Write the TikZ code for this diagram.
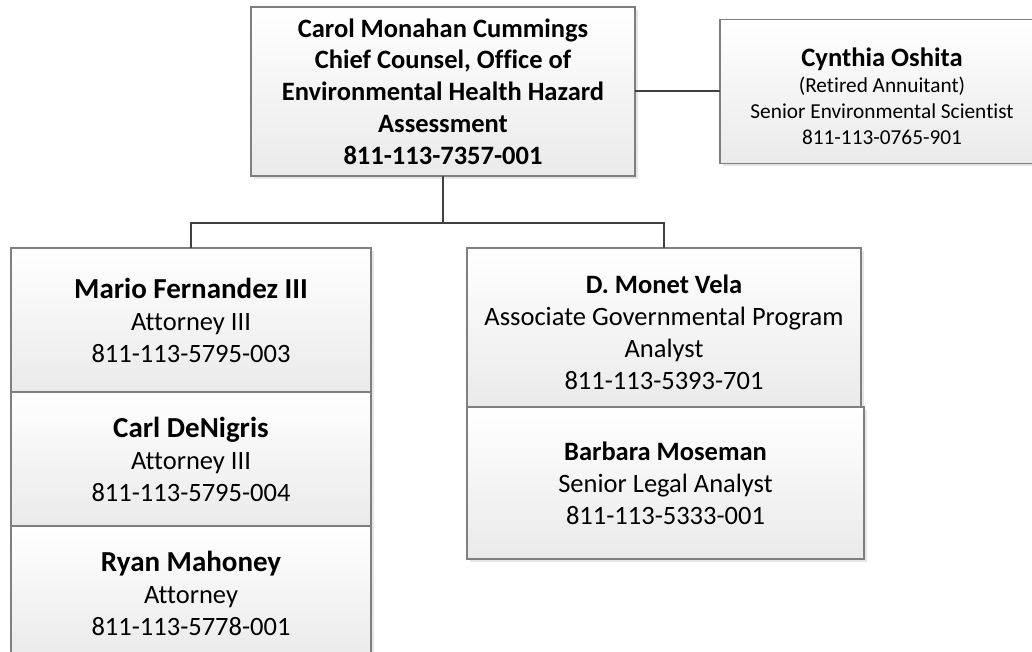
\documentclass[tikz,border=0pt]{standalone}
\usepackage{fontspec}
\setmainfont{Carlito}[Ligatures={NoCommon}]
\usetikzlibrary{positioning}
\usetikzlibrary{shadows}

\definecolor{boxline}{HTML}{7F7F7F}
\definecolor{boxshade}{HTML}{EAEAEA}
\definecolor{linkline}{HTML}{404040}

\newcommand{\namefont}{\fontsize{29}{35}\selectfont\bfseries}

\begin{document}
\begin{tikzpicture}[
    x=1pt, y=-1pt,
    staffbox/.style={rectangle, draw=boxline, line width=1.2pt, top color=white, bottom color=boxshade,
        drop shadow={shadow xshift=3pt, shadow yshift=-3pt, fill=black!10, opacity=1},
        inner sep=0pt, outer sep=0pt, align=center, font=\fontsize{26.5}{32}\selectfont},
    link/.style={draw=linkline, line width=2pt},
    node distance=0pt
    ]
    \useasboundingbox (0,0) rectangle (1032,652);
    \clip (0,0) rectangle (1032,652);

    %Nodes
    \node[staffbox, font=\fontsize{26.5}{31.75}\selectfont\bfseries, minimum width=384pt, minimum height=169pt] (cummings) at (443,91.5) {Carol Monahan Cummings\\ Chief Counsel, Office of\\ Environmental Health Hazard\\ Assessment\\ 811-113-7357-001};

    \node[staffbox, font=\fontsize{21.3}{26}\selectfont, minimum width=324pt, minimum height=144pt] (oshita) [right=85pt of cummings] {\rule{0pt}{28pt}{\fontsize{26.6}{30}\selectfont\bfseries Cynthia Oshita}\\ (Retired Annuitant)\\ Senior Environmental Scientist\\ 811-113-0765-901};

    \node[staffbox, minimum width=360pt, minimum height=144pt, anchor=north west] (fernandez) at (11,248) {{\namefont Mario Fernandez III}\\ Attorney III\\ 811-113-5795-003};
    \node[staffbox, minimum width=360pt, minimum height=134pt] (denigris) [below=of fernandez] {{\namefont Carl DeNigris}\\ Attorney III\\ 811-113-5795-004};
    \node[staffbox, minimum width=360pt, minimum height=134pt] (mahoney) [below=of denigris] {{\namefont Ryan Mahoney}\\ Attorney\\ 811-113-5778-001};

    \node[staffbox, minimum width=394pt, minimum height=159pt, anchor=north west] (vela) at (467,248) {\rule{0pt}{29pt}{\bfseries D. Monet Vela}\\ Associate Governmental Program\\ Analyst\\ 811-113-5393-701};
    \node[staffbox, minimum width=397pt, minimum height=152pt] (moseman) [below right=0pt of vela.south west] {{\bfseries Barbara Moseman}\\ Senior Legal Analyst\\ 811-113-5333-001};

    %Lines
    \draw[link] (cummings) -- (oshita);
    \draw[link] (cummings.south) -- ++(0,47) coordinate (split) -| (fernandez.north);
    \draw[link] (split) -| (vela.north);

\end{tikzpicture}
\end{document}
